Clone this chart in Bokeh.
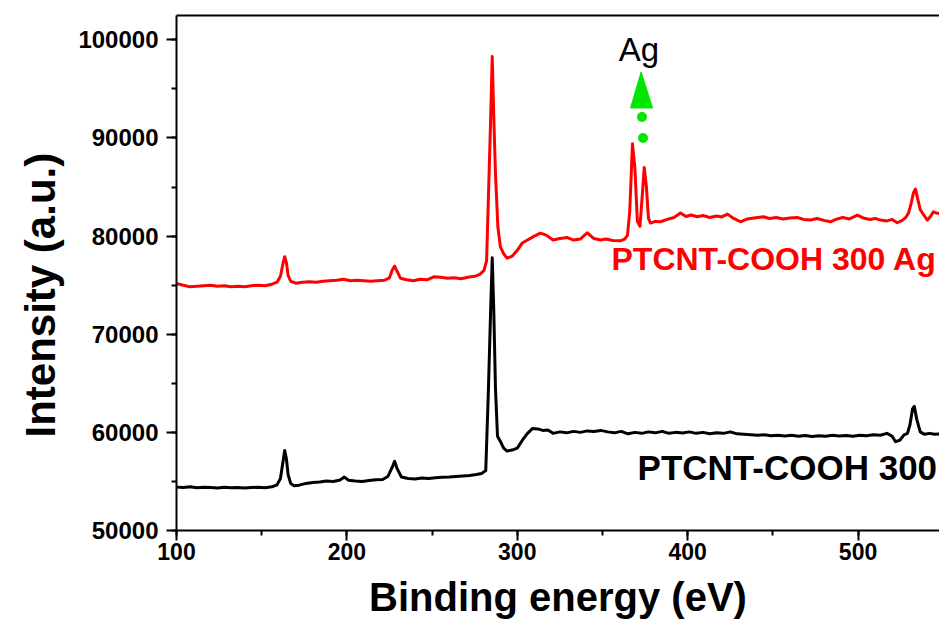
import math
from bokeh.plotting import figure
from bokeh.models import (Range1d, SingleIntervalTicker, FixedTicker, LinearAxis, Label, Title,
                          ColumnDataSource, BasicTickFormatter)
from bokeh.embed import file_html
from bokeh.resources import INLINE

# ---- data (binding energy in eV, intensity in a.u.) ----
black_be = [100, 104, 108, 112, 116, 120, 124, 128, 132, 136, 140, 144, 148, 152, 156, 159, 161,
            162.5, 163.5, 164.5, 165.5, 167, 169, 172, 176, 180, 184, 188, 192, 196, 198.5, 201,
            205, 209, 213, 217, 221, 224, 226.5, 228, 229.5, 232, 236, 240, 244, 248, 252, 256,
            260, 264, 268, 272, 276, 279, 281.5, 283, 284.3, 285.3, 286.2, 287.2, 288.4, 290, 292,
            294, 297, 300, 303, 306, 309, 312, 315, 318, 321, 325, 329, 333, 337, 341, 345, 349,
            353, 357, 361, 365, 369, 373, 377, 381, 385, 389, 393, 397, 401, 405, 409, 413, 417,
            421, 425, 429, 433, 437, 441, 445, 449, 453, 457, 461, 465, 469, 473, 477, 481, 485,
            489, 493, 497, 501, 505, 509, 513, 517, 520, 522, 524.5, 527, 529, 530.5, 532, 533,
            534.5, 536.5, 539, 542, 545, 548]
black_int = [54420, 54380, 54450, 54350, 54400, 54370, 54330, 54400, 54350, 54380, 54340, 54380,
             54410, 54360, 54450, 54650, 55300, 57000, 58150, 57300, 55700, 54800, 54550, 54620,
             54800, 54900, 54950, 55050, 55000, 55150, 55440, 55120, 55050, 55000, 55100, 55180,
             55200, 55500, 56400, 57050, 56300, 55450, 55300, 55250, 55350, 55300, 55380, 55420,
             55450, 55500, 55550, 55600, 55700, 55800, 56100, 64000, 72000, 77800, 72500, 64500,
             59600, 59100, 58400, 58100, 58200, 58400, 59200, 59900, 60400, 60350, 60200, 60250,
             59900, 60050, 59950, 60100, 60000, 60150, 60080, 60200, 60050, 59950, 60100, 59850,
             60000, 59900, 60050, 59950, 60100, 59900, 60000, 59930, 60050, 59900, 60000, 59850,
             59950, 59900, 60050, 59850, 59800, 59750, 59700, 59750, 59650, 59700, 59620, 59700,
             59600, 59680, 59580, 59650, 59600, 59700, 59620, 59680, 59600, 59700, 59650, 59750,
             59700, 59900, 59600, 59050, 59200, 59750, 59900, 60800, 62400, 62650, 61300, 60050,
             59800, 59900, 59800, 59850]

red_be = [100, 104, 108, 112, 116, 120, 124, 128, 132, 136, 140, 144, 148, 152, 156, 159, 161,
          162.5, 163.5, 164.5, 165.5, 167, 170, 174, 178, 182, 186, 190, 194, 198, 202, 206, 210,
          214, 218, 222, 225, 226.5, 228, 229.5, 231.5, 235, 239, 243, 247, 251, 255, 259, 263,
          267, 271, 275, 278, 280.5, 282, 283.3, 284.3, 285.3, 286.2, 287.2, 288.6, 290.1, 292,
          294, 297, 300, 303, 306, 310, 313.6, 317, 321, 325, 329.5, 333, 337, 341, 345, 348.8,
          352, 356, 360.6, 363, 364.7, 366, 367.6, 369, 370.5, 372, 373.3, 374.5, 375.8, 377,
          378.2, 381, 384, 388, 392, 395.8, 399, 402, 405.7, 409, 413, 417, 420, 423.4, 427, 431,
          435, 439, 444.5, 448, 452, 456, 460, 464.4, 468, 472, 476, 480, 483.8, 487, 491, 495,
          499.6, 503, 507, 510, 513.1, 517, 520, 523, 526, 528, 529.6, 531, 532.5, 533.7, 535,
          536.5, 537.8, 540.7, 542.5, 544.2, 546, 548]
red_int = [75170, 75000, 74830, 74900, 74950, 75000, 74880, 74950, 74830, 74900, 74850, 74950,
           75000, 74950, 75100, 75300, 75900, 77200, 77900, 77300, 76000, 75400, 75200, 75300,
           75350, 75300, 75400, 75450, 75500, 75600, 75450, 75500, 75450, 75400, 75450, 75500,
           75750, 76500, 76950, 76400, 75700, 75550, 75450, 75600, 75550, 75850, 75800, 75700,
           75750, 75650, 75800, 75900, 76100, 76500, 77500, 85400, 91500, 98300, 92200, 86400,
           80950, 78900, 78200, 77750, 77950, 78550, 79300, 79600, 80000, 80300, 80100, 79600,
           79750, 79850, 79600, 79700, 80340, 79750, 79600, 79700, 79550, 79520, 79700, 80100,
           82500, 89400, 87000, 81500, 81000, 84000, 87000, 85000, 81800, 81330, 81500, 81460,
           81700, 81900, 82350, 82000, 82150, 81970, 82100, 81900, 82050, 81950, 82240, 81800,
           81460, 81750, 81850, 81970, 81800, 81900, 81750, 81850, 81900, 81700, 81650, 81800,
           81600, 81460, 81700, 81900, 81750, 82140, 81850, 81700, 81800, 81630, 81550, 81700,
           81360, 81600, 81900, 82350, 83200, 84400, 84800, 83800, 82700, 82350, 81630, 82000,
           82480, 82350, 82300]

x_ticks_major = [100, 200, 300, 400, 500]
y_ticks_major = [50000, 60000, 70000, 80000, 90000, 100000]

series_labels = ["PTCNT-COOH 300", "PTCNT-COOH 300 Ag"]
peak_label = "Ag"
x_title = "Binding energy (eV)"
y_title = "Intensity (a.u.)"

# Ag marker (green arrow: triangle head and dotted shaft)
ag_head_x = [366.5, 372.7, 379.4]
ag_head_y = [93060, 96735, 93060]
ag_dots_x = [373.2, 373.8]
ag_dots_y = [92140, 90000]

FONT = "Liberation Sans"

p = figure(width=939, height=635, output_backend="svg", toolbar_location=None,
           x_range=Range1d(100, 547.8), y_range=Range1d(50000, 102480),
           min_border_left=176, min_border_right=0, min_border_top=15, min_border_bottom=105,
           x_axis_location=None, y_axis_location=None)
p.grid.visible = False
p.outline_line_color = None
p.background_fill_color = "white"
p.border_fill_color = "white"

xaxis = LinearAxis(ticker=SingleIntervalTicker(interval=100, num_minor_ticks=2),
                   axis_label=x_title)
yaxis = LinearAxis(ticker=SingleIntervalTicker(interval=10000, num_minor_ticks=2),
                   formatter=BasicTickFormatter(use_scientific=False))
for ax in (xaxis, yaxis):
    ax.axis_line_width = 2
    ax.axis_line_color = "black"
    ax.major_tick_line_width = 2
    ax.minor_tick_line_width = 2
    ax.major_tick_in = 0
    ax.major_tick_out = 10
    ax.minor_tick_in = 0
    ax.minor_tick_out = 5
    ax.major_label_text_font = FONT
    ax.major_label_text_font_style = "bold"
    ax.major_label_text_color = "black"
    ax.axis_label_text_font = FONT
    ax.axis_label_text_font_style = "bold"
    ax.axis_label_text_color = "black"
xaxis.major_label_text_font_size = "23px"
yaxis.major_label_text_font_size = "24px"
xaxis.axis_label_text_font_size = "40px"
xaxis.major_label_standoff = 2
xaxis.axis_label_standoff = 12
yaxis.major_label_standoff = 8
p.add_layout(xaxis, "below")
p.add_layout(yaxis, "left")

# y-axis title as a side title, starting a little above the frame bottom as in the reference
p.add_layout(Title(text=y_title, align="left", offset=93, standoff=24,
                   text_font=FONT, text_font_style="bold", text_font_size="42px",
                   text_color="black"), "left")

top = LinearAxis(ticker=FixedTicker(ticks=[]), major_tick_out=0, major_tick_in=0,
                 minor_tick_out=0, minor_tick_in=0, axis_line_width=2, axis_line_color="black")
p.add_layout(top, "above")

black_src = ColumnDataSource(dict(x=black_be, y=black_int))
red_src = ColumnDataSource(dict(x=red_be, y=red_int))
p.line("x", "y", source=black_src, line_color="black", line_width=3, line_join="round")
p.line("x", "y", source=red_src, line_color="#ff0000", line_width=3, line_join="round")

green = "#00e600"
p.patch(ag_head_x, ag_head_y, fill_color=green, line_color=green)
p.scatter(ag_dots_x, ag_dots_y, marker="circle", size=10, fill_color=green, line_color=None)

p.add_layout(Label(x=371.4, y=99030, text=peak_label, text_font=FONT, text_font_size="33px",
                   text_align="center", text_baseline="middle", text_color="black"))
p.add_layout(Label(x=355.3, y=77650, text=series_labels[1], text_font=FONT, text_font_size="32px",
                   text_font_style="bold", text_align="left", text_baseline="middle",
                   text_color="#ff0000"))
p.add_layout(Label(x=370.6, y=56380, text=series_labels[0], text_font=FONT, text_font_size="35px",
                   text_font_style="bold", text_align="left", text_baseline="middle",
                   text_color="black"))

open("out.html", "w").write(file_html(p, INLINE))
